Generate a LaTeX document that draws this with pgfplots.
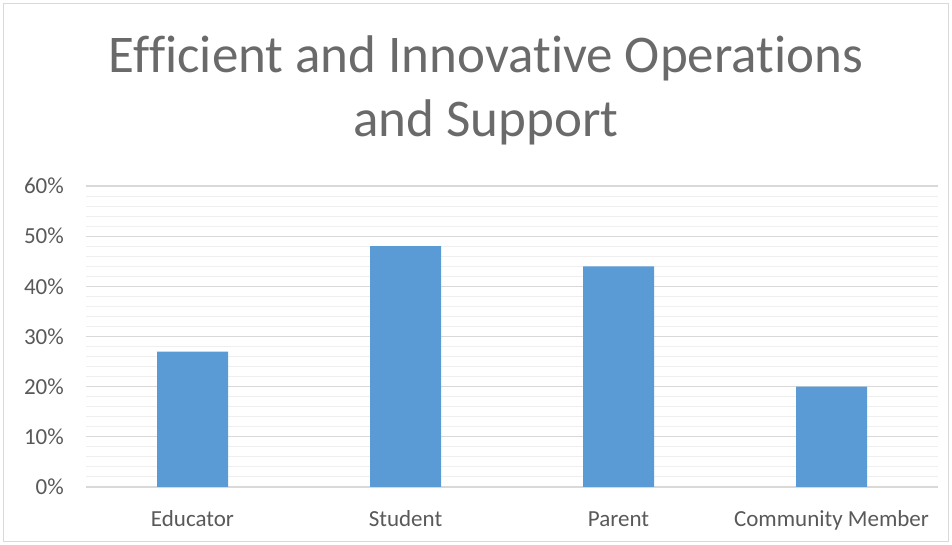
\documentclass[border=0pt]{standalone}
\usepackage{fontspec}
\setmainfont{Carlito}[Ligatures=NoCommon]
\usepackage{pgfplots}
\pgfplotsset{compat=1.18}
\definecolor{barblue}{HTML}{5B9BD5}
\definecolor{txtgray}{HTML}{595959}
\definecolor{titlegray}{HTML}{6A6A6A}
\definecolor{majgrid}{HTML}{D9D9D9}
\definecolor{mingrid}{HTML}{EFEFEF}
\begin{document}
\begin{tikzpicture}[x=1pt,y=1pt]
\useasboundingbox (0,0) rectangle (952,545);
\draw[majgrid, line width=1pt] (3.5,3.5) rectangle (948.5,541.5);
% title, two lines (kerns keep ffi and ti apart)
\node[anchor=base, text=titlegray, font=\fontsize{53}{64}\selectfont, inner sep=0pt] at (486,472) {Ef\kern0ptf\kern0pticient and Innovat\kern0ptive Operat\kern0ptions};
\node[anchor=base, text=titlegray, font=\fontsize{53}{64}\selectfont, inner sep=0pt] at (486,408) {and Support};
\begin{axis}[
    at={(86pt,58pt)}, anchor=south west,
    scale only axis,
    width=852pt, height=301pt,
    xmin=-0.5, xmax=3.5,
    ymin=0, ymax=60,
    ybar, bar width=71pt,
    xtick=data,
    xticklabels={Educator,Student,Parent,Community Member},
    ytick={0,10,...,60},
    minor y tick num=4,
    ymajorgrids, yminorgrids,
    major grid style={majgrid, line width=1.2pt},
    minor grid style={mingrid, line width=1pt},
    axis line style={draw=none},
    tick style={draw=none},
    yticklabel={\pgfmathprintnumber{\tick}\%},
    /pgf/number format/assume math mode=true,
    ticklabel style={text=txtgray, font=\fontsize{23}{27}\selectfont},
    yticklabel style={anchor=east, inner sep=0pt, xshift=-22pt},
    xticklabel style={anchor=base, inner sep=0pt, yshift=-35pt},
]
\addplot[fill=barblue, draw=none] coordinates {(0,27) (1,48) (2,44) (3,20)};
\end{axis}
\end{tikzpicture}
\end{document}
